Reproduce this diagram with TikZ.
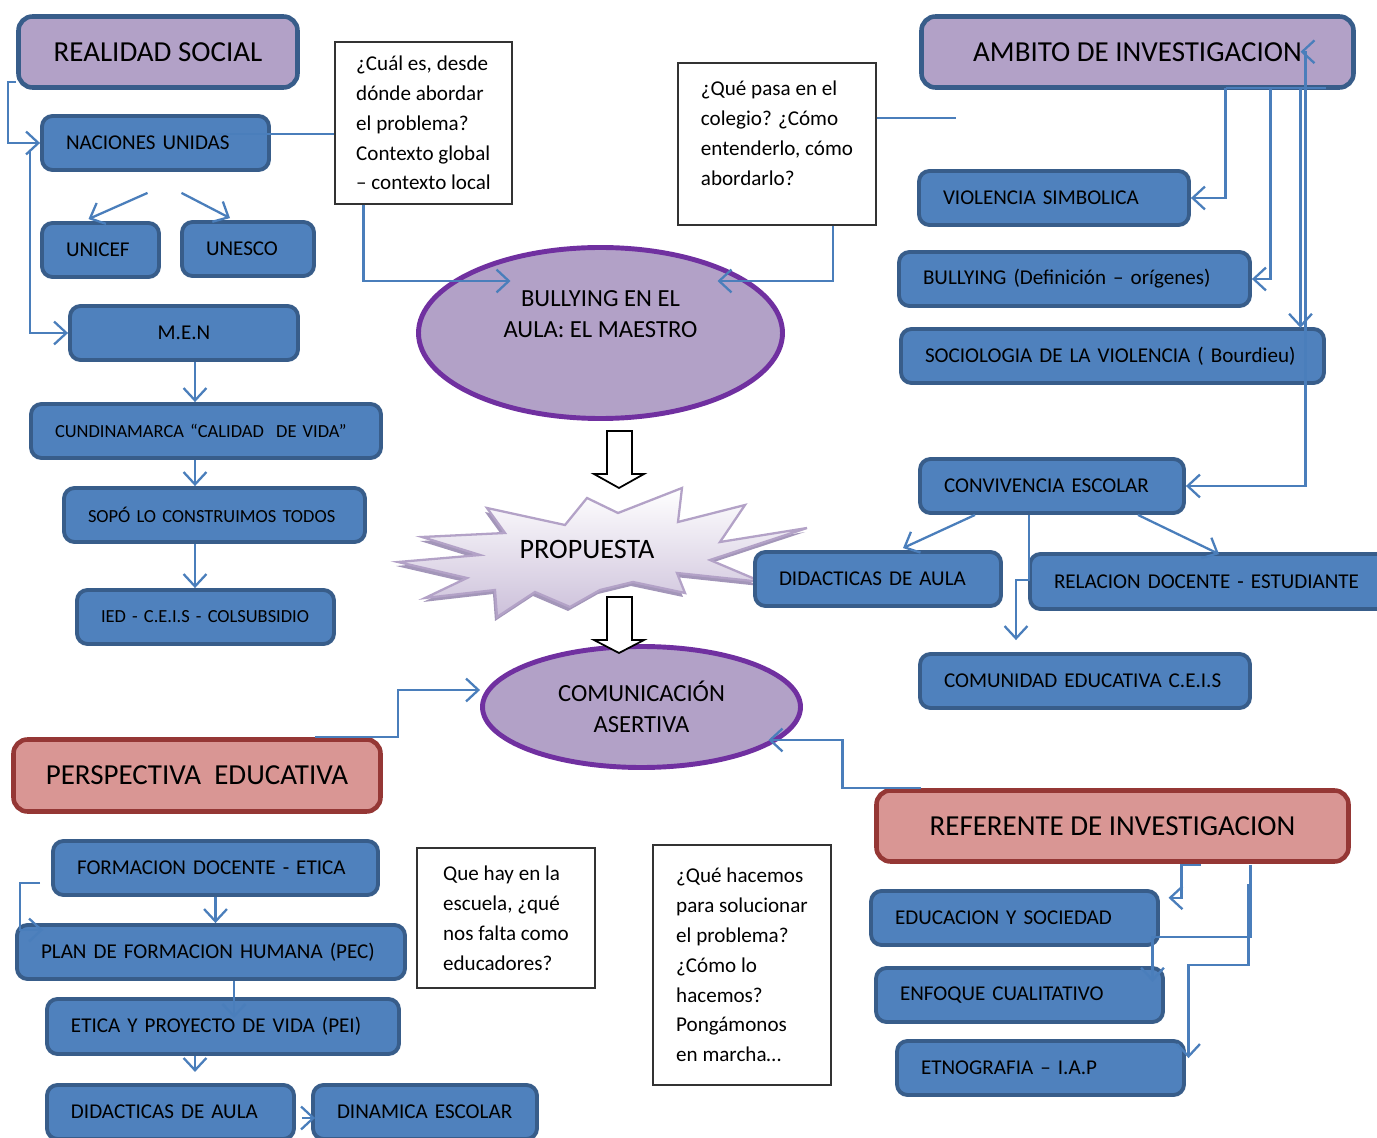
\documentclass[tikz,border=0pt]{standalone}
\usepackage{fontspec}
\setmainfont{Carlito}
\usetikzlibrary{arrows.meta, shapes.geometric}

\definecolor{boxblue}{RGB}{79,129,189}
\definecolor{boxedge}{RGB}{56,93,138}
\definecolor{lilac}{RGB}{178,161,199}
\definecolor{rose}{RGB}{217,150,148}
\definecolor{roseedge}{RGB}{149,55,53}
\definecolor{ovaledge}{RGB}{112,48,160}
\definecolor{linkblue}{RGB}{74,126,187}
\definecolor{starline}{RGB}{179,162,199}
\definecolor{starfill}{RGB}{204,192,218}
\definecolor{starshadow}{RGB}{163,150,185}

% outline of the PROPUESTA burst (pixel grid)
\newcommand{\burst}{(487,508) -- (565,525) -- (587,498) -- (618,513) -- (682,488) -- (678,522)
  -- (745,505) -- (720,542) -- (807,528) -- (710,560) -- (762,582) -- (677,573) -- (685,593)
  -- (633,582) -- (600,590) -- (570,607) -- (535,592) -- (497,617) -- (495,590) -- (425,598)
  -- (467,578) -- (398,562) -- (480,555) -- (422,537) -- (505,533) -- cycle}

\begin{document}
\begin{tikzpicture}[
    x=0.02cm, y=-0.02cm,
    >={Straight Barb[length=7pt,width=13pt]},
    base/.style={draw=boxedge, fill=boxblue, line width=2.2pt, rounded corners=6pt, inner ysep=1pt},
    blubox/.style 2 args={base, text width=(#1-52)*0.02cm, minimum height=(#2-4)*0.02cm,
        inner xsep=0.48cm, font=\fontsize{12}{14}\selectfont,
        execute at begin node=\hbox\bgroup, execute at end node=\egroup},
    smallbox/.style 2 args={blubox={#1}{#2}, font=\fontsize{10.5}{12}\selectfont},
    midbox/.style 2 args={base, minimum width=(#1-4)*0.02cm, minimum height=(#2-4)*0.02cm,
        font=\fontsize{12}{14}\selectfont},
    headbox/.style 2 args={draw=boxedge, fill=lilac, line width=2.6pt, rounded corners=8pt,
        minimum width=(#1-5)*0.02cm, minimum height=(#2-5)*0.02cm,
        font=\fontsize{16.5}{20}\selectfont},
    redbox/.style 2 args={headbox={#1}{#2}, draw=roseedge, fill=rose},
    qbox/.style 2 args={draw=black!80, fill=white, line width=0.8pt, inner sep=0pt, align=left,
        minimum width=#1*0.02cm, minimum height=#2*0.02cm, font=\fontsize{12}{17}\selectfont},
    oval/.style={ellipse, draw=ovaledge, fill=lilac, line width=2.8pt, align=center,
        font=\fontsize{14}{18}\selectfont},
    link/.style={draw=linkblue, line width=1.3pt},
    bigarrow/.style={draw=black, fill=white, line width=1pt}
]
    \useasboundingbox (0,0) rectangle (1377,1138);
    \clip (0,0) rectangle (1377,1138);

    % === centre: problem, proposal, result ===
    \node[oval, minimum width=364*0.02cm, minimum height=171*0.02cm] (bull) at (600.5,333)
        {BULLYING EN EL\\AULA: EL MAESTRO\\[3.6pt]\mbox{}};
    \node[oval, minimum width=318*0.02cm, minimum height=121*0.02cm] (comm) at (641.5,707)
        {COMUNICACIÓN\\ASERTIVA};

    \fill[starshadow, shift={(-2,4)}] \burst;
    \draw[draw=starline, line width=1.3pt, top color=white, bottom color=starfill] \burst;
    \node[font=\fontsize{16}{19}\selectfont] (prop) at (587,549) {PROPUESTA};

    \draw[bigarrow] (607,431) -- (632,431) -- (632,474) -- (644,474) -- (619,488)
        -- (594,474) -- (607,474) -- cycle;
    \draw[bigarrow] (607,597) -- (632,597) -- (632,640) -- (644,640) -- (619,653)
        -- (594,640) -- (607,640) -- cycle;

    % === headers ===
    \node[headbox={284}{76}] (real) at (158,52) {REALIDAD SOCIAL};
    \node[headbox={437}{76}] (amb) at (1137.5,52) {AMBITO DE INVESTIGACION};
    \node[redbox={372}{77}] (persp) at (197,775.5) {PERSPECTIVA\ \ EDUCATIVA};
    \node[redbox={477}{76}] (refe) at (1112.5,826) {REFERENTE DE INVESTIGACION};

    % === left column ===
    \node[blubox={231}{58}] (nu) at (155.5,143) {NACIONES UNIDAS};
    \node[blubox={121}{58}] (unicef) at (100.5,250) {UNICEF};
    \node[blubox={136}{58}] (unesco) at (248,249) {UNESCO};
    \node[midbox={232}{58}] (men) at (184,333) {M.E.N};
    \node[smallbox={354}{58}] (cund) at (206,431) {CUNDINAMARCA “CALIDAD\ \ DE VIDA”};
    \node[smallbox={305}{58}] (sopo) at (214.5,515) {SOPÓ LO CONSTRUIMOS TODOS};
    \node[smallbox={261}{58}] (ied) at (205.5,617) {IED - C.E.I.S - COLSUBSIDIO};

    % === right column ===
    \node[blubox={274}{58}] (viol) at (1054,198) {VIOLENCIA SIMBOLICA};
    \node[blubox={355}{58}] (bdef) at (1074.5,279) {BULLYING (Definición – orígenes)};
    \node[blubox={427}{58}] (soc) at (1112.5,356) {SOCIOLOGIA DE LA VIOLENCIA ( Bourdieu)};
    \node[blubox={268}{58}] (conv) at (1052,486) {CONVIVENCIA ESCOLAR};
    \node[blubox={250}{58}] (didr) at (878,579) {DIDACTICAS DE AULA};
    \node[blubox={364}{59}] (rel) at (1210,581.5) {RELACION DOCENTE - ESTUDIANTE};
    \node[blubox={334}{58}] (comu) at (1085,681) {COMUNIDAD EDUCATIVA C.E.I.S};

    % === bottom left ===
    \node[blubox={329}{58}] (form) at (215.5,868) {FORMACION DOCENTE - ETICA};
    \node[blubox={392}{58}] (plan) at (211,952) {PLAN DE FORMACION HUMANA (PEC)};
    \node[blubox={356}{59}] (etica) at (223,1026.5) {ETICA Y PROYECTO DE VIDA (PEI)};
    \node[blubox={251}{58}] (didb) at (170.5,1112) {DIDACTICAS DE AULA};
    \node[blubox={228}{58}] (dina) at (425,1112) {DINAMICA ESCOLAR};

    % === bottom right ===
    \node[blubox={291}{58}] (edu) at (1014.5,918) {EDUCACION Y SOCIEDAD};
    \node[blubox={291}{58}] (enf) at (1019.5,995) {ENFOQUE CUALITATIVO};
    \node[blubox={291}{58}] (etno) at (1040.5,1068) {ETNOGRAFIA – I.A.P};

    % === questions ===
    \node[qbox={177}{162}] (q1) at (423.5,123)
        {¿Cuál es, desde\\dónde abordar\\el problema?\\Contexto global\\– contexto local};
    \node[qbox={198}{162}] (q2) at (777,144)
        {¿Qué pasa en el\\colegio? ¿Cómo\\entenderlo, cómo\\abordarlo?\\[-4.6pt]\mbox{}};
    \node[qbox={178}{140}] (q3) at (506,918)
        {Que hay en la\\escuela, ¿qué\\nos falta como\\educadores?};
    \node[qbox={178}{240}] (q4) at (742,965)
        {¿Qué hacemos\\para solucionar\\el problema?\\¿Cómo lo\\hacemos?\\Pongámonos\\en marcha…};

    % === links: left column ===
    \draw[link,->] ([shift={(0,-8)}]real.south west) -- ++(-8,0) |- (nu.west);
    \draw[link,->] ([shift={(-10,7)}]nu.west) |- (men.west);
    \draw[link,->] ([shift={(-8,21)}]nu.south) -- ([shift={(-12,-2)}]unicef.north);
    \draw[link,->] ([shift={(26,21)}]nu.south) -- ([shift={(-18,-2)}]unesco.north);
    \draw[link,->] (men.south -| 195,0) -- (cund.north -| 195,0);
    \draw[link,->] (cund.south -| 195,0) -- (sopo.north -| 195,0);
    \draw[link,->] (sopo.south -| 195,0) -- (ied.north -| 195,0);

    % === links: questions to the problem ===
    \draw[link] ([shift={(60,-9)}]nu.center) -- ([shift={(0,11)}]q1.west);
    \draw[link,->] ([shift={(-60,0)}]q1.south) |- ([shift={(-90,-52)}]bull.center);
    \draw[link,->] ([shift={(56,0)}]q2.south) |- ([shift={(117,-52)}]bull.center);
    \draw[link] ([shift={(0,-26)}]q2.east) -- ++(79,0);

    % === links: ambito ===
    \coordinate (ambbar) at ([shift={(88,-2)}]amb.south);
    \draw[link] (ambbar) -- ++(100,0);
    \draw[link,->] (ambbar) |- (viol.east);
    \draw[link,->] ([shift={(45,0)}]ambbar) |- (bdef.east);
    \draw[link,->] ([shift={(75,0)}]ambbar) -- ++(0,240);
    \draw[link,<->] ([shift={(75,-36)}]ambbar) -- ++(5,0) |- (conv.east);

    % === links: convivencia ===
    \draw[link,->] ([shift={(-77,0)}]conv.south) -- ([shift={(25,-2)}]didr.north);
    \draw[link,->] ([shift={(86,0)}]conv.south) -- ([shift={(9,2)}]rel.north);
    \draw[link,->] ([shift={(-23,0)}]conv.south) -- ++(0,65) -| ([shift={(-69,-12)}]comu.north);

    % === links: lower half ===
    \draw[link,->] ([shift={(118,0)}]persp.north) -- ++(83,0) |- ([shift={(0,-17)}]comm.west);
    \draw[link,->] ([shift={(-192,0)}]refe.north) -- ++(-78,0) |- ([shift={(127,33)}]comm.center);
    \draw[link,->] (form.south) -- (form.south |- plan.north);
    \draw[link,->] ([shift={(-11,15)}]form.west) -- ++(-20,0) |- ([shift={(28,-22)}]plan.west);
    \draw[link,->] ([shift={(23,0)}]plan.south) -- ++(0,37);
    \draw[link,->] ([shift={(-28,0)}]etica.south) -- ++(0,16);
    \draw[link,->] ([shift={(6,6)}]didb.east) -- ([shift={(4,6)}]dina.west);

    % === links: referente ===
    \draw[link,->] ([shift={(88,1)}]refe.south) -- ++(-19,0) -- ++(0,33) -- ++(-13,0);
    \draw[link,->] ([shift={(138,1)}]refe.south) -- ++(0,72) -- ++(-98,0) -- ++(0,45);
    \draw[link,->] ([shift={(136,20)}]refe.south) -- ++(0,81) -| ([shift={(148,19)}]etno.north);

\end{tikzpicture}
\end{document}
